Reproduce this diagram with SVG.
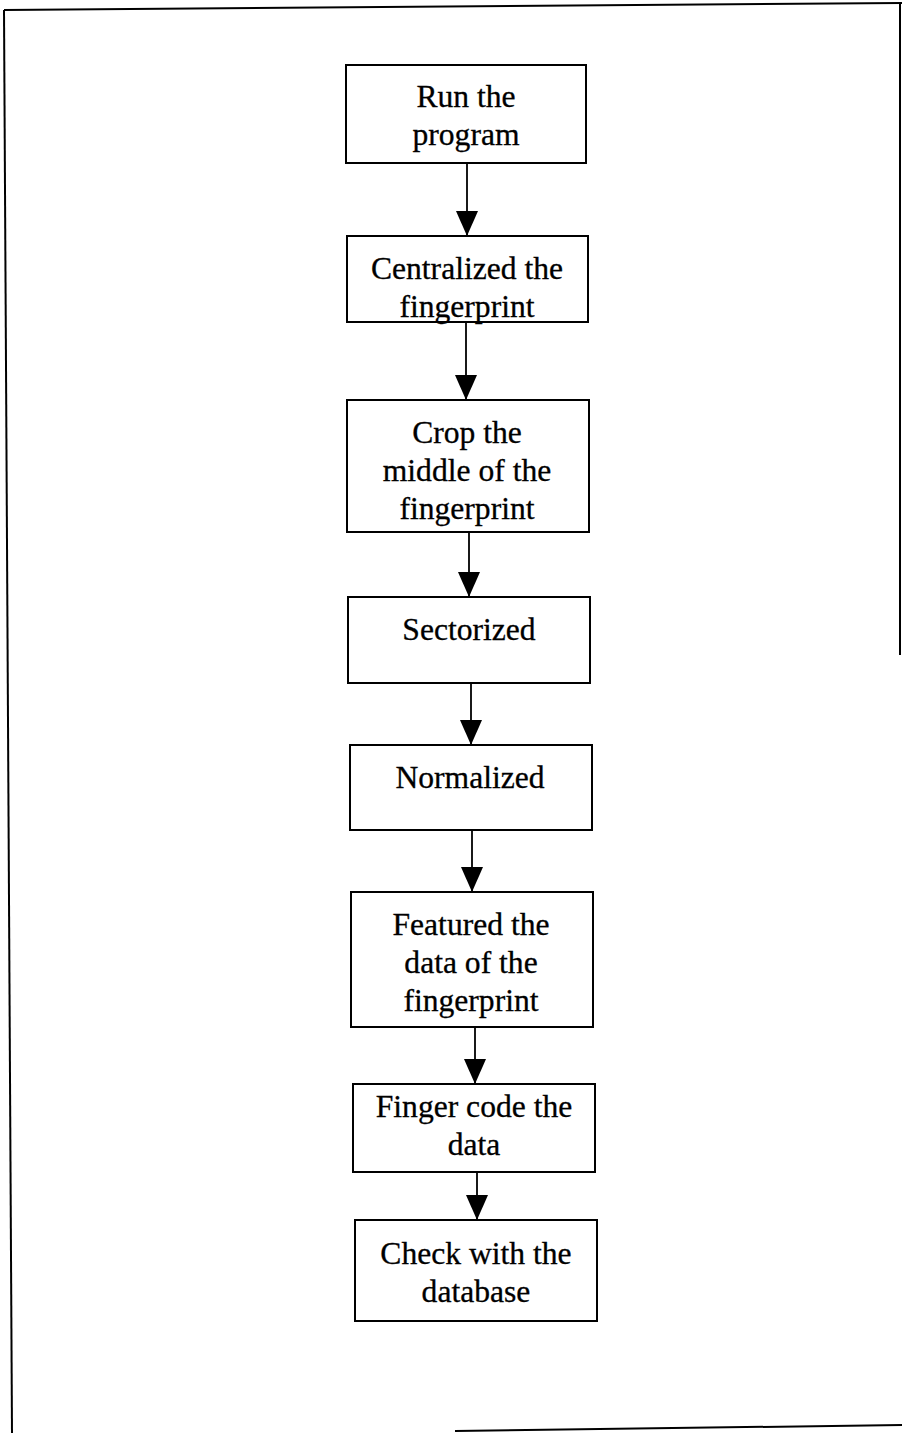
<svg xmlns="http://www.w3.org/2000/svg" width="902" height="1433" viewBox="0 0 902 1433">
  <defs>
    <marker id="arrow" viewBox="0 0 25 22" refX="25" refY="11" markerWidth="25" markerHeight="22" markerUnits="userSpaceOnUse" orient="auto">
      <path d="M0,0 L25,11 L0,22 Z" fill="#000"/>
    </marker>
  </defs>
  <style>
    .frame { fill: none; stroke: #000; stroke-width: 2; }
    .box { fill: #fff; stroke: #000; stroke-width: 2; }
    .lbl { font-family: "Liberation Serif", "Times New Roman", serif; font-size: 31.6px; fill: #000; stroke: #000; stroke-width: 0.3; text-anchor: middle; }
    .conn { fill: none; stroke: #000; stroke-width: 1.8; }
  </style>
  <rect x="0" y="0" width="902" height="1433" fill="#fff"/>

  <!-- page frame -->
  <g id="frame">
    <path class="frame" d="M4,10 L902,3"/>
    <path class="frame" d="M4,10 L12,1433"/>
    <path class="frame" d="M900,3 L900,655"/>
    <path class="frame" d="M455,1431 L902,1425"/>
  </g>

  <!-- connectors -->
  <g id="connectors">
    <line class="conn" x1="467" y1="163" x2="467" y2="236" marker-end="url(#arrow)"/>
    <line class="conn" x1="466" y1="322" x2="466" y2="400" marker-end="url(#arrow)"/>
    <line class="conn" x1="469" y1="532" x2="469" y2="597" marker-end="url(#arrow)"/>
    <line class="conn" x1="471" y1="683" x2="471" y2="745" marker-end="url(#arrow)"/>
    <line class="conn" x1="472" y1="830" x2="472" y2="892" marker-end="url(#arrow)"/>
    <line class="conn" x1="475" y1="1027" x2="475" y2="1084" marker-end="url(#arrow)"/>
    <line class="conn" x1="477" y1="1172" x2="477" y2="1220" marker-end="url(#arrow)"/>
  </g>

  <g id="run">
    <rect class="box" x="346" y="65" width="240" height="98"/>
    <text class="lbl" x="466" y="107">Run the</text>
    <text class="lbl" x="466" y="145">program</text>
  </g>

  <g id="centralize">
    <rect class="box" x="347" y="236" width="241" height="86"/>
    <text class="lbl" x="467" y="279">Centralized the</text>
    <text class="lbl" x="467" y="317">fingerprint</text>
  </g>

  <g id="crop">
    <rect class="box" x="347" y="400" width="242" height="132"/>
    <text class="lbl" x="467" y="443">Crop the</text>
    <text class="lbl" x="467" y="481">middle of the</text>
    <text class="lbl" x="467" y="519">fingerprint</text>
  </g>

  <g id="sectorize">
    <rect class="box" x="348" y="597" width="242" height="86"/>
    <text class="lbl" x="469" y="640">Sectorized</text>
  </g>

  <g id="normalize">
    <rect class="box" x="350" y="745" width="242" height="85"/>
    <text class="lbl" x="470" y="788">Normalized</text>
  </g>

  <g id="feature">
    <rect class="box" x="351" y="892" width="242" height="135"/>
    <text class="lbl" x="471" y="935">Featured the</text>
    <text class="lbl" x="471" y="973">data of the</text>
    <text class="lbl" x="471" y="1011">fingerprint</text>
  </g>

  <g id="fingercode">
    <rect class="box" x="353" y="1084" width="242" height="88"/>
    <text class="lbl" x="474" y="1117">Finger code the</text>
    <text class="lbl" x="474" y="1155">data</text>
  </g>

  <g id="check">
    <rect class="box" x="355" y="1220" width="242" height="101"/>
    <text class="lbl" x="476" y="1264">Check with the</text>
    <text class="lbl" x="476" y="1302">database</text>
  </g>
</svg>
